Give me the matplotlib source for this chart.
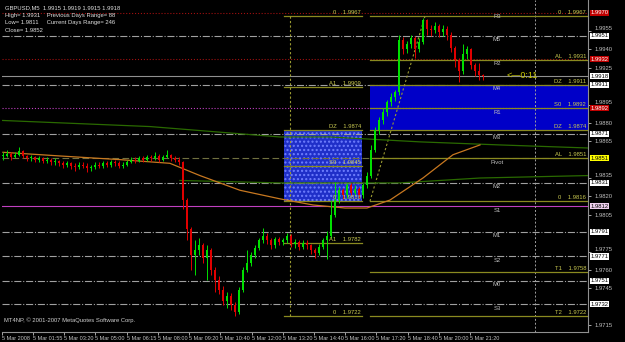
import matplotlib
matplotlib.use("Agg")
import matplotlib.pyplot as plt
import matplotlib.transforms as mtransforms
import numpy as np

plt.rcParams["font.family"] = ["Liberation Sans", "DejaVu Sans"]

# precios en pips sobre 1.9700, una vela = 10 min
base = 1.9700
cierres = [153,155,152,154,157,153,151,152,150,151,149,150,148,149,147,146,147,145,144,146,
           145,143,144,146,145,147,146,148,147,145,146,148,150,149,151,150,152,151,153,150,
           152,154,151,150,148,117,93,72,76,80,70,76,60,52,44,35,39,31,26,44,
           60,66,72,78,84,88,84,80,85,83,84,88,81,83,79,82,80,76,74,79,
           84,88,105,117,125,121,129,123,126,121,129,137,158,174,182,189,197,201,205,248,
           240,244,249,240,246,264,257,256,259,254,257,252,241,231,222,236,240,227,222,219,218]
maximos = [156,158,156,156,160,158,154,154,153,153,152,152,151,151,150,149,149,148,147,148,
           148,147,146,148,148,149,149,150,150,149,148,150,152,152,153,153,154,154,156,155,
           154,158,155,153,152,149,119,95,84,86,82,80,78,62,55,47,42,41,34,46,
           62,76,75,80,86,94,90,86,87,87,86,90,89,85,84,84,84,81,78,81,
           86,92,117,132,128,127,131,131,129,128,131,140,162,177,185,192,199,204,207,252,
           250,247,252,251,249,266,265,260,262,261,260,259,254,243,233,244,243,241,229,229,220]
minimos = [150,152,150,151,153,151,149,149,148,148,147,147,146,146,145,143,144,142,141,142,
           143,140,141,142,143,143,144,144,145,143,143,145,147,147,148,148,149,149,150,148,
           149,151,149,148,146,110,84,60,56,72,66,52,56,42,40,31,29,27,22,24,
           42,58,63,70,76,82,81,77,78,80,80,82,79,78,76,77,77,73,70,72,
           77,69,86,103,115,118,119,121,121,119,119,127,135,156,171,179,186,194,198,203,
           236,237,241,233,238,244,252,251,253,250,251,248,238,226,213,220,232,224,218,215,215]

etiquetas_tiempo = ["5 Mar 2008", "5 Mar 01:55", "5 Mar 03:20", "5 Mar 05:00", "5 Mar 06:15",
                    "5 Mar 08:00", "5 Mar 09:20", "5 Mar 10:40", "5 Mar 12:00", "5 Mar 13:20",
                    "5 Mar 14:40", "5 Mar 16:00", "5 Mar 17:20", "5 Mar 18:40", "5 Mar 20:00",
                    "5 Mar 21:20"]

# escala de precios visible a la derecha
precios_eje = [1.9715, 1.9745, 1.9760, 1.9775, 1.9805, 1.9820, 1.9835,
               1.9865, 1.9880, 1.9895, 1.9925, 1.9940, 1.9955]

# pivotes diarios
piv_nombres = ["R3", "M5", "R2", "M4", "R1", "M3", "Pivot", "M2", "S1", "M1", "S2", "M0", "S3"]
piv_valores = [1.9970, 1.9951, 1.9932, 1.9911, 1.9892, 1.9871, 1.9851, 1.9831, 1.9812,
               1.9791, 1.9771, 1.9751, 1.9732]

# niveles fibo izquierda y derecha
fib_izq_nombres = ["0", "A1", "DZ", "S0", "0", "A1", "0"]
fib_izq_valores = [1.9967, 1.9909, 1.9874, 1.9845, 1.9816, 1.9782, 1.9722]
fib_der_nombres = ["0", "AL", "DZ", "S0", "DZ", "AL", "0", "T1", "T2"]
fib_der_valores = [1.9967, 1.9931, 1.9911, 1.9892, 1.9874, 1.9851, 1.9816, 1.9758, 1.9722]

# medias moviles (indice de vela, pips)
ma_naranja_x = [0, 14.25, 29.25, 41.75, 49.25, 59.25, 69.25, 77.5, 85.5, 91, 96.75, 105, 112.5, 119.25]
ma_naranja_y = [156, 153, 150, 147, 137, 125, 118, 113, 110.5, 110.5, 117, 135, 154, 162]
ma_verde1_x = [-0.25, 36.75, 69.25, 81.75, 104.25, 124.25, 146.25]
ma_verde1_y = [182, 177, 168.5, 168.5, 164.5, 162, 159.5]
ma_verde2_x = [44.25, 69.25, 99.25, 119.25, 146.25]
ma_verde2_y = [133, 131, 131, 135, 137]

bid = 1.9918

c = base + np.array(cierres) / 10000
h = base + np.array(maximos) / 10000
l = base + np.array(minimos) / 10000
o = np.concatenate([[c[0]], c[:-1]])
x = np.arange(len(c))

fig = plt.figure(figsize=(6.25, 3.42), dpi=100, facecolor="black")
ax = fig.add_axes([0.003, 0.0292, 0.9378, 0.9708], facecolor="black")
ax.set_xlim(-0.25, 146.25)
ax.set_ylim(1.97093, 1.99803)

bl = mtransforms.blended_transform_factory(ax.transAxes, ax.transData)
fs = 4.2


def etiqueta(val, fondo, color_txt):
    ax.text(1.004, val, f"{val:.4f}", transform=bl, fontsize=fs, color=color_txt, va="center",
            ha="left", bbox=dict(boxstyle="square,pad=0.1", fc=fondo, ec="none"),
            clip_on=False, zorder=10)


# cajas de zonas
ax.fill_between([70.25, 89.75], 1.9816, 1.9874, facecolor="#1f2fc8", edgecolor="#7080ff",
                hatch="....", linewidth=0, zorder=1)
ax.fill_between([91.75, 146.25], 1.9874, 1.9911, facecolor="#0000c8", linewidth=0, zorder=1)

# pivotes
for nom, val in zip(piv_nombres, piv_valores):
    if nom in ("R3", "R2"):
        col, ls, tag, tcol = "#a01010", ":", "#c00000", "white"
    elif nom == "R1":
        col, ls, tag, tcol = "#c040c0", ":", "#c00000", "white"
    elif nom == "S1":
        col, ls, tag, tcol = "#c040c0", "-", "#f0d0f0", "black"
    elif nom == "Pivot":
        col, ls, tag, tcol = "#707040", (0, (6, 3)), "#ffff00", "black"
    else:
        col, ls, tag, tcol = "#a0a0a0", "-.", "white", "black"
    ax.axhline(val, color=col, lw=0.8, ls=ls, zorder=2)
    ax.text(123.5, val - 0.00012, nom, color="#c0c0c0", fontsize=fs, ha="center", va="top", zorder=6)
    etiqueta(val, tag, tcol)

# linea bid
ax.axhline(bid, color="#909090", lw=0.8, zorder=2)
etiqueta(bid, "white", "black")
ax.text(126, bid + 0.00005, "<\u20140:11", color="#c8c800", fontsize=6.5, ha="left", va="center", zorder=6)

# fibo
for nom, val in zip(fib_izq_nombres, fib_izq_valores):
    ax.plot([70.25, 89.75], [val, val], color="#8a8a20", lw=0.9, zorder=3)
    ax.text(89.5, val + 0.00008, f"{nom}    {val:.4f}", color="#c8c850", fontsize=fs,
            ha="right", va="bottom", zorder=6)
for nom, val in zip(fib_der_nombres, fib_der_valores):
    ax.plot([91.75, 146.25], [val, val], color="#8a8a20", lw=0.9, zorder=3)
    ax.text(145.8, val + 0.00008, f"{nom}    {val:.4f}", color="#c8c850", fontsize=fs,
            ha="right", va="bottom", zorder=6)

ax.plot([71.75, 71.75], [1.9722, 1.9967], color="#9a9a30", lw=0.8, ls=(0, (2, 2)), zorder=3)
ax.plot([91.75, 105.5], [1.9816, 1.9967], color="#9a9a30", lw=0.8, ls=(0, (2, 2)), zorder=3)
ax.axvline(133, color="#a0a0a0", lw=0.7, ls=(0, (2, 2)), zorder=2)

# medias
ax.plot(ma_verde1_x, base + np.array(ma_verde1_y) / 10000, color="#2a6a00", lw=0.9, zorder=3)
ax.plot(ma_verde2_x, base + np.array(ma_verde2_y) / 10000, color="#2a6a00", lw=0.9, zorder=3)
ax.plot(ma_naranja_x, base + np.array(ma_naranja_y) / 10000, color="#c87820", lw=0.9, zorder=3)

# velas
sube = c >= o
colores = np.where(sube, "#00e000", "#e00000")
ax.vlines(x, l, h, colors=colores, lw=0.7, zorder=4)
cuerpo = np.maximum(np.abs(c - o), 0.00006)
ax.bar(x, cuerpo, bottom=np.minimum(o, c), width=0.65, color=colores, linewidth=0, zorder=5)

# ejes
ax.yaxis.tick_right()
ax.set_yticks(precios_eje)
ax.set_yticklabels([f"{v:.4f}" for v in precios_eje])
ax.tick_params(axis="y", colors="#c0c0c0", labelsize=fs, length=2, width=0.6, pad=3)
# los que quedan pegados encima de una etiqueta se suben un poco
for t in ax.get_yticklabels():
    if t.get_text() in ("1.9955", "1.9895", "1.9835", "1.9775"):
        t.set_va("bottom")
pos = [-0.25 + 7.8 * k for k in range(len(etiquetas_tiempo))]
ax.set_xticks(pos)
ax.set_xticklabels(etiquetas_tiempo, ha="left")
ax.tick_params(axis="x", colors="#c0c0c0", labelsize=4.0, length=2, width=0.6, pad=1)
for s in ("left", "top"):
    ax.spines[s].set_visible(False)
for s in ("right", "bottom"):
    ax.spines[s].set_color("#909090")
    ax.spines[s].set_linewidth(0.8)

# textos
cab = ["GBPUSD,M5  1.9915 1.9919 1.9915 1.9918",
       "High= 1.9931    Previous Days Range= 88",
       "Low= 1.9811     Current Days Range= 246",
       "Close= 1.9852"]
for k, t in enumerate(cab):
    fig.text(0.008, 0.985 - k * 0.022, t, color="#e0e0e0", fontsize=fs, va="top", ha="left")
fig.text(0.006, 0.055, "MT4NP, \u00a9 2001-2007 MetaQuotes Software Corp.", color="#d0d0d0",
         fontsize=fs, va="bottom", ha="left")

fig.savefig("out.png", dpi=100, facecolor="black")
